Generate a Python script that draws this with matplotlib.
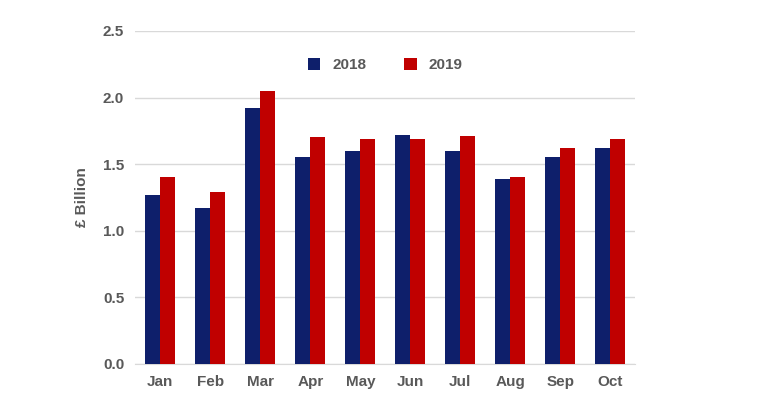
import numpy as np
import matplotlib.pyplot as plt

plt.rcParams["font.family"] = ["Liberation Sans", "DejaVu Sans"]

months = ["Jan", "Feb", "Mar", "Apr", "May", "Jun", "Jul", "Aug", "Sep", "Oct"]
vals_2018 = [1.27, 1.17, 1.92, 1.55, 1.60, 1.72, 1.60, 1.39, 1.55, 1.62]
vals_2019 = [1.40, 1.29, 2.05, 1.70, 1.69, 1.69, 1.71, 1.40, 1.62, 1.69]
y_ticks = [0.0, 0.5, 1.0, 1.5, 2.0, 2.5]

fig = plt.figure(figsize=(7.6, 4.07), dpi=100)
ax = fig.add_axes([0.178, 0.106, 0.658, 0.818])
x = np.arange(len(months))
w = 0.3
ax.bar(x - w / 2, vals_2018, w, color="#0E1F6B", label="2018", zorder=3)
ax.bar(x + w / 2, vals_2019, w, color="#C00000", label="2019", zorder=3)

ax.set_xlim(-0.5, len(months) - 0.5)
ax.set_ylim(0, 2.5)
ax.set_yticks(y_ticks)
ax.set_yticklabels([f"{t:.1f}" for t in y_ticks])
ax.set_xticks(x)
ax.set_xticklabels(months)
for lbl in ax.get_xticklabels() + ax.get_yticklabels():
    lbl.set_fontweight("bold")
    lbl.set_color("#595959")
    lbl.set_fontsize(11)
ax.tick_params(length=0, pad=8)
ax.grid(axis="y", color="#D9D9D9", lw=1, zorder=0)
for s in ["top", "right", "left"]:
    ax.spines[s].set_visible(False)
ax.spines["bottom"].set_color("#D9D9D9")
ax.set_ylabel("£ Billion", fontsize=11, fontweight="bold", color="#595959", labelpad=10)
leg = ax.legend(loc="upper center", bbox_to_anchor=(0.5, 0.96), ncol=2, frameon=False,
                fontsize=11, handlelength=0.8, handleheight=0.8, columnspacing=2.5)
for t in leg.get_texts():
    t.set_fontweight("bold")
    t.set_color("#595959")

fig.savefig("out.png", dpi=100)
